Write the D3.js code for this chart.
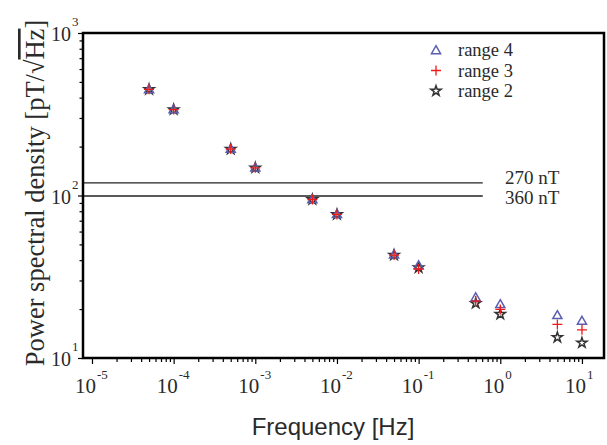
<!DOCTYPE html>
<html><head><meta charset="utf-8">
<script src="https://cdn.jsdelivr.net/npm/d3@7"></script>
<style>body{margin:0;background:#fff}svg{display:block}</style>
</head><body>
<svg id="c" width="607" height="445"></svg>
<script>
// ---- data ----
const freqs   = [5e-5, 1e-4, 5e-4, 1e-3, 5e-3, 1e-2, 5e-2, 0.1, 0.5, 1, 5, 10];
const range4  = [452, 340, 194, 149, 95, 77, 43.5, 37.3, 23.7, 21.5, 18.4, 17.0];
const range3  = [450, 338, 193, 148, 94.5, 76.5, 43, 35.3, 22.4, 19.9, 16.1, 14.9];
const range2  = [450, 338, 193, 148, 94.5, 76.5, 43, 36.0, 21.7, 18.6, 13.4, 12.4];
const seriesNames = ["range 4", "range 3", "range 2"];
const xTickExps = [-5, -4, -3, -2, -1, 0, 1];
const yTickExps = [1, 2, 3];
const refLines = [{label: "270 nT", value: 119.5}, {label: "360 nT", value: 99.3}];
const refLineEnd = 0.61;

// ---- layout ----
const svg = d3.select("#c");
const L = 83, R = 604, T = 33, B = 358;
const x = d3.scaleLog().domain([Math.pow(10, -5.11), Math.pow(10, 1.27)]).range([L, R]);
const y = d3.scaleLog().domain([10, 1000]).range([B, T]);
const serif = "'Liberation Serif','Times New Roman',serif";
const ink = "#2a2a2a";

// ticks
const xt = x.ticks().filter(v => v >= 1e-5 * 0.999 && v <= 10.001);
const isMajor = v => Math.abs(Math.log10(v) - Math.round(Math.log10(v))) < 1e-6;
const xAxis = d3.axisBottom(x).tickValues(xt).tickFormat("").tickSizeOuter(0).tickSize(4);
const gx = svg.append("g").attr("transform", `translate(0,${B})`).call(xAxis);
gx.select(".domain").remove();
gx.selectAll(".tick line").attr("y2", d => isMajor(d) ? 6 : 4).attr("stroke", "#000").attr("stroke-width", 1.2);

const yt = y.ticks();
const yAxis = d3.axisLeft(y).tickValues(yt).tickFormat("").tickSizeOuter(0).tickSize(4);
const gy = svg.append("g").attr("transform", `translate(${L},0)`).call(yAxis);
gy.select(".domain").remove();
gy.selectAll(".tick line").attr("x2", d => isMajor(d) ? -5 : -3.5).attr("stroke", "#000").attr("stroke-width", 1.2);

// x tick labels
xTickExps.forEach(e => {
  const px = x(Math.pow(10, e));
  svg.append("text").attr("x", px + 4).attr("y", 393).attr("text-anchor", "end")
    .attr("font-family", serif).attr("font-size", 21).attr("fill", ink).text("10");
  svg.append("text").attr("x", px + 5).attr("y", 379)
    .attr("font-family", serif).attr("font-size", 13).attr("fill", ink).text(e < 0 ? "-" + (-e) : String(e));
});
// y tick labels
yTickExps.forEach(e => {
  const py = y(Math.pow(10, e));
  svg.append("text").attr("x", 71).attr("y", py + 8).attr("text-anchor", "end")
    .attr("font-family", serif).attr("font-size", 20).attr("fill", ink).text("10");
  svg.append("text").attr("x", 72).attr("y", py - 7)
    .attr("font-family", serif).attr("font-size", 13).attr("fill", ink).text(String(e));
});

// reference lines
refLines.forEach((r, i) => {
  svg.append("line").attr("x1", L).attr("x2", x(refLineEnd))
    .attr("y1", y(r.value)).attr("y2", y(r.value)).attr("stroke", "#222").attr("stroke-width", 1.3);
  svg.append("text").attr("x", 505).attr("y", y(r.value) + (i === 0 ? 1 : 8))
    .attr("font-family", serif).attr("font-size", 19).attr("fill", ink).text(r.label);
});

// markers
const tri = d3.symbol().type(d3.symbolTriangle).size(36);
const star = d3.symbol().type(d3.symbolStar).size(32);
function drawTri(g, cx, cy) {
  g.append("path").attr("d", tri()).attr("transform", `translate(${cx},${cy + 1})`)
    .attr("fill", "none").attr("stroke", "#5a5fb0").attr("stroke-width", 1.5);
}
function drawPlus(g, cx, cy) {
  g.append("path").attr("d", `M${cx - 5},${cy}H${cx + 5}M${cx},${cy - 5}V${cy + 5}`)
    .attr("stroke", "#f01818").attr("stroke-width", 1.3).attr("fill", "none");
}
function drawStar(g, cx, cy) {
  g.append("path").attr("d", star()).attr("transform", `translate(${cx},${cy})`)
    .attr("fill", "none").attr("stroke", "#333").attr("stroke-width", 1.5);
}
const gp = svg.append("g");
freqs.forEach((f, i) => drawStar(gp, x(f), y(range2[i])));
freqs.forEach((f, i) => drawTri(gp, x(f), y(range4[i])));
freqs.forEach((f, i) => drawPlus(gp, x(f), y(range3[i])));

// legend
const lg = svg.append("g");
const drawers = [drawTri, drawPlus, drawStar];
seriesNames.forEach((n, i) => {
  const cy = 50 + i * 20.5;
  drawers[i](lg, 436, cy);
  lg.append("text").attr("x", 458).attr("y", cy + 6).attr("font-family", serif)
    .attr("font-size", 18.5).attr("fill", ink).text(n);
});

// frame
svg.append("rect").attr("x", L).attr("y", T).attr("width", R - L).attr("height", B - T)
  .attr("fill", "none").attr("stroke", "#000").attr("stroke-width", 2.5);

// axis titles
svg.append("text").attr("x", 333).attr("y", 435).attr("text-anchor", "middle")
  .attr("font-family", "'Liberation Sans',Arial,sans-serif").attr("font-size", 24).attr("fill", ink)
  .text("Frequency [Hz]");
const yl = svg.append("text").attr("transform", "translate(44,193) rotate(-90)").attr("text-anchor", "middle")
  .attr("font-family", serif).attr("font-size", 26.5).attr("fill", ink);
yl.append("tspan").text("Power spectral density  [pT/√");
yl.append("tspan").attr("text-decoration", "overline").text("Hz");
yl.append("tspan").text("]");
</script>
</body></html>
